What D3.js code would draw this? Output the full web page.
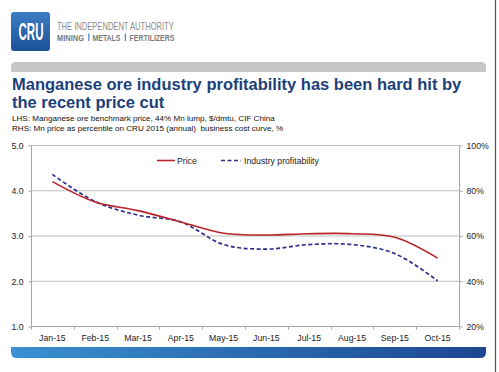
<!DOCTYPE html>
<html><head><meta charset="utf-8">
<script src="https://cdn.jsdelivr.net/npm/d3@7"></script>
<style>html,body{margin:0;padding:0;background:#fff;}svg{display:block;}</style>
</head><body>
<script>
const months = ["Jan-15","Feb-15","Mar-15","Apr-15","May-15","Jun-15","Jul-15","Aug-15","Sep-15","Oct-15"];
const price = [4.19, 3.74, 3.55, 3.30, 3.05, 3.01, 3.04, 3.04, 2.96, 2.50];
const profitability = [87, 75, 69, 66, 56, 54, 56, 56, 52, 40];
const leftTicks = [1, 2, 3, 4, 5];
const rightTicks = [20, 40, 60, 80, 100];
const seriesNames = ["Price", "Industry profitability"];
const titleLines = ["Manganese ore industry profitability has been hard hit by", "the recent price cut"];
const subLines = ["LHS: Manganese ore benchmark price, 44% Mn lump, $/dmtu, CIF China",
                  "RHS: Mn price as percentile on CRU 2015 (annual)  business cost curve, %"];
const taglineWords = ["MINING", "METALS", "FERTILIZERS"];

const W = 499, H = 372;
const F = "'Liberation Sans', Arial, sans-serif";
const svg = d3.select("body").append("svg").attr("width", W).attr("height", H);
const defs = svg.append("defs");
const g1 = defs.append("linearGradient").attr("id","barGrad").attr("x1","0").attr("x2","1");
g1.append("stop").attr("offset","0").attr("stop-color","#3a90d2");
g1.append("stop").attr("offset","1").attr("stop-color","#1c4690");
const g2 = defs.append("linearGradient").attr("id","logoGrad").attr("x1","0").attr("y1","0").attr("x2","0").attr("y2","1");
g2.append("stop").attr("offset","0").attr("stop-color","#3c7cc4");
g2.append("stop").attr("offset","1").attr("stop-color","#1b5296");

// text squeezed horizontally to a target width via a scale transform
function fitText(parent, str, x0, y0, width, size, weight, fill) {
  const t = parent.append("text").attr("x",0).attr("y",0).attr("font-family",F)
    .attr("font-size",size).attr("font-weight",weight).attr("fill",fill).text(str);
  const w = t.node().getComputedTextLength();
  t.attr("transform",`translate(${x0},${y0}) scale(${width / w},1)`);
  return t;
}

// right border
svg.append("line").attr("x1",495.5).attr("x2",495.5).attr("y1",0).attr("y2",H).attr("stroke","#555").attr("stroke-width",1.2);

// logo
svg.append("rect").attr("x",11).attr("y",12).attr("width",39).attr("height",39).attr("rx",3).attr("fill","url(#logoGrad)");
fitText(svg, "CRU", 18.5, 39.5, 25, 23, "bold", "#fff");
fitText(svg, "THE INDEPENDENT AUTHORITY", 57, 29.5, 117, 10.5, "normal", "#8c8c8c");
const tagX = [57, 92.5, 129.5], tagW = [27, 28, 45];
taglineWords.forEach((w,i)=>fitText(svg, w, tagX[i], 40.5, tagW[i], 9, "bold", "#7a7a7a"));
svg.selectAll("rect.sep").data([88.2, 124.8]).enter().append("rect").attr("class","sep")
  .attr("x",d=>d).attr("y",33.5).attr("width",1.2).attr("height",7.5).attr("fill","#4a86c8");

// gray bar (rounded top)
svg.append("path").attr("d","M11,72 L11,67 Q11,62 16,62 L481,62 Q486,62 486,67 L486,72 Z").attr("fill","#c6c6c6");
// blue bar (rounded bottom)
svg.append("path").attr("d","M11,347 L486,347 L486,352 Q486,358 480,358 L17,358 Q11,358 11,352 Z").attr("fill","url(#barGrad)");

// title
svg.selectAll("text.title").data(titleLines).enter().append("text").attr("class","title")
  .attr("x",12).attr("y",(d,i)=>89.5 + i*18).attr("font-family",F).attr("font-weight","bold").attr("font-size",16.5)
  .attr("fill","#1d3f7a").text(d=>d);
svg.selectAll("text.sub").data(subLines).enter().append("text").attr("class","sub")
  .attr("x",12).attr("y",(d,i)=>120.5 + i*10).attr("font-family",F).attr("font-size",8.1)
  .attr("fill","#111").style("white-space","pre").text(d=>d);

// scales
const x = d3.scaleBand().domain(months).range([31, 459]);
const yL = d3.scaleLinear().domain([1,5]).range([326,145]);
const yR = d3.scaleLinear().domain([20,100]).range([326,145]);
const fs = 8.7;

// gridlines
svg.append("g").selectAll("line").data(leftTicks.slice(1)).enter().append("line")
  .attr("x1",31).attr("x2",459).attr("y1",d=>yL(d)+0.5).attr("y2",d=>yL(d)+0.5)
  .attr("stroke","#bdbdbd").attr("stroke-width",1);

// left axis
const axL = svg.append("g").attr("transform","translate(31.5,0.5)")
  .call(d3.axisLeft(yL).tickValues(leftTicks).tickFormat(d3.format(".1f")).tickSize(3).tickPadding(5));
axL.select(".domain").attr("stroke","#a6a6a6").attr("d","M0,145V326");
axL.selectAll(".tick line").attr("stroke","#a6a6a6");
axL.selectAll("text").attr("font-family",F).attr("font-size",fs).attr("fill","#222");

// right axis
const axR = svg.append("g").attr("transform","translate(459.5,0.5)")
  .call(d3.axisRight(yR).tickValues(rightTicks).tickFormat(d=>d+"%").tickSize(3).tickPadding(4));
axR.select(".domain").attr("stroke","#a6a6a6").attr("d","M0,145V326");
axR.selectAll(".tick line").attr("stroke","#a6a6a6");
axR.selectAll("text").attr("font-family",F).attr("font-size",fs).attr("fill","#222");

// bottom axis
const axB = svg.append("g").attr("transform","translate(0,326.5)")
  .call(d3.axisBottom(x).tickSize(0).tickPadding(8));
axB.select(".domain").attr("stroke","#a6a6a6").attr("d","M31,0H459");
axB.selectAll("text").attr("font-family",F).attr("font-size",fs).attr("fill","#222");
const bounds = months.map(m=>x(m)).concat([x.range()[1]]);
axB.selectAll("line.sep").data(bounds).enter().append("line").attr("class","sep")
  .attr("x1",d=>Math.round(d)+0.5).attr("x2",d=>Math.round(d)+0.5).attr("y1",0).attr("y2",3).attr("stroke","#a6a6a6");

// lines
const cx = m => x(m) + x.bandwidth()/2;
const curve = d3.curveCatmullRom.alpha(0.5);
svg.append("path").datum(months.map((m,i)=>[cx(m), yR(profitability[i])]))
  .attr("d", d3.line().curve(curve)).attr("fill","none").attr("stroke","#2a2d8c")
  .attr("stroke-width",1.7).attr("stroke-dasharray","4,2.5");
svg.append("path").datum(months.map((m,i)=>[cx(m), yL(price[i])]))
  .attr("d", d3.line().curve(curve)).attr("fill","none").attr("stroke","#b8222a").attr("stroke-width",1.6);

// legend
const lg = svg.append("g").attr("font-family",F).attr("font-size",fs).attr("fill","#222");
lg.append("line").attr("x1",157).attr("x2",175).attr("y1",160.5).attr("y2",160.5).attr("stroke","#b8222a").attr("stroke-width",1.6);
lg.append("text").attr("x",177).attr("y",163.5).text(seriesNames[0]);
lg.append("line").attr("x1",221).attr("x2",241).attr("y1",160.5).attr("y2",160.5).attr("stroke","#2a2d8c").attr("stroke-width",1.7).attr("stroke-dasharray","4,2.5");
lg.append("text").attr("x",244).attr("y",163.5).text(seriesNames[1]);
</script>
</body></html>
